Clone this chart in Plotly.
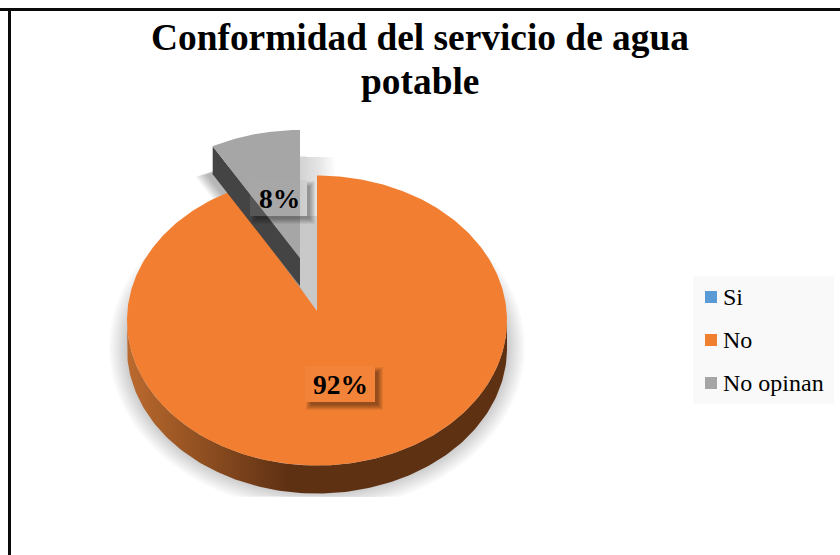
import numpy as np
import plotly.graph_objects as go

# ---- data
categories = ["Si", "No", "No opinan"]
values = [0.0, 92.4, 7.6]
colors = ["#5b9bd5", "#f27f31", "#a6a6a6"]
title_lines = ["Conformidad del servicio de agua", "potable"]

# ---- pie geometry (pixel-like axis units)
CX, CY, RX, RY, APEX_Y, DEPTH = 317, 320.5, 190, 145, 311, 28
EX, EY, E_APEX_Y = 300, 275, 258
CROP_BOTTOM = 497

total = sum(values)
angles = np.cumsum([0] + values) / total * 360
no_start, no_end = angles[1], angles[2]
op_start, op_end = angles[2], angles[3]


def arc(cx, cy, start, end, rx=RX, ry=RY, n=160):
    t = np.radians(np.linspace(start, end, n))
    return cx + rx * np.sin(t), cy - ry * np.cos(t)


fig = go.Figure()


def poly(x, y, color, **kw):
    fig.add_trace(go.Scatter(x=list(x), y=list(y), mode="lines", fill="toself",
                             fillcolor=color, line=dict(width=0), hoverinfo="skip",
                             showlegend=False, **kw))


# soft shadow under the pie, cut off at the picture's lower edge
for k in range(10):
    grow = 1.8 * (k + 1)
    x, y = arc(CX, CY + 27, 0, 360, RX + grow, RY + grow)
    poly(x, np.minimum(y, CROP_BOTTOM), "rgba(0,0,0,0.02)")

# exploded slice's soft shadow
ax, ay = arc(EX, EY, op_start, op_end)
wx = np.r_[EX, ax, EX]
wy = np.r_[E_APEX_Y + DEPTH, ay + DEPTH, E_APEX_Y + DEPTH]
for k in range(8):
    s = 1 + 0.035 * (k + 1)
    mx, my = wx.mean(), wy.mean()
    poly(mx + (wx - mx) * s - 5, my + (wy - my) * s, "rgba(0,0,0,0.04)")

# shadow band to the right of the exploded slice, fading out
poly([EX, EX + 36, EX + 36, EX], [157, 157, 216, 216], "#d4d4d4",
     fillgradient=dict(type="horizontal", start=EX, stop=EX + 36,
                       colorscale=[[0, "#d2d2d2"], [0.5, "#e4e4e4"], [1, "#ffffff"]]))
# inner cut face seen through the gap
poly([EX, CX, CX, EX], [216, 216, APEX_Y, E_APEX_Y + DEPTH + 1], "#c9c9c9")

# main slice rim
rx1, ry1 = arc(CX, CY, 90, 270)
rx2, ry2 = arc(CX, CY + DEPTH, 270, 90)
poly(np.r_[rx1, rx2], np.r_[ry1, ry2], "#5f3113",
     fillgradient=dict(type="horizontal", start=CX - RX, stop=CX + RX,
                       colorscale=[[0, "#bb6a2e"], [0.42, "#5f3113"], [1, "#5f3113"]]))

# main slice top
tx, ty = arc(CX, CY, no_start, no_end, n=400)
poly(np.r_[CX, tx, CX], np.r_[APEX_Y, ty, APEX_Y], colors[1])

# exploded slice: dark cut face and top
left_x, left_y = ax[0], ay[0]
poly([left_x, left_x, EX, EX], [left_y, left_y + DEPTH, E_APEX_Y + DEPTH, E_APEX_Y], "#444444")
poly(np.r_[EX, ax, EX], np.r_[E_APEX_Y, ay, E_APEX_Y], colors[2])


# data labels with soft L-shaped box shadows
def label(i, box, fill, shade):
    x0, x1, y0, y1 = box
    for k in range(5):
        g = 1.2 * k
        poly([x1, x1 + 3 + g, x1 + 3 + g, x0 + 6 - g, x0 + 6 - g, x1],
             [y0 + 6 - g, y0 + 6 - g, y1 + 3 + g, y1 + 3 + g, y1, y1],
             f"rgba(0,0,0,{shade})")
    poly([x0, x1, x1, x0], [y0, y0, y1, y1], fill)
    fig.add_annotation(x=(x0 + x1) / 2 + 0.5, y=(y0 + y1) / 2, text=f"{round(values[i])}%",
                       showarrow=False, borderpad=0,
                       font=dict(family="Liberation Serif", size=27.5, color="#000000",
                                 weight="bold"))


label(1, (305, 375, 366, 402), "#f4833a", 0.09)
label(2, (250, 307, 180, 216), "rgba(170,170,170,0.18)", 0.07)

# legend panel and entries
LEG_Y = [297, 340, 383]
poly([693, 834, 834, 693], [276, 276, 404, 404], "#f9f9f9")
for name, col, ly in zip(categories, ["#5b9bd5", "#f07f30", "#a5a5a5"], LEG_Y):
    fig.add_trace(go.Scatter(x=[711], y=[ly], mode="markers", name=name,
                             marker=dict(symbol="square", size=12, color=col),
                             hoverinfo="name", showlegend=False))
    fig.add_annotation(x=722, y=ly, text=name, showarrow=False, xanchor="left", borderpad=0,
                       font=dict(family="Liberation Serif", size=24, color="#000000"))

# second title line (the original's line spacing is tighter than a <br>)
fig.add_annotation(x=420, y=81, text=title_lines[1], showarrow=False, borderpad=0,
                   font=dict(family="Liberation Serif", size=37.4, color="#000000", weight="bold"))

BORDER = dict(type="line", line=dict(color="#0a0a0a", width=3), layer="above")
fig.update_layout(
    width=840, height=555, autosize=False,
    margin=dict(l=0, r=0, t=0, b=0, pad=0),
    paper_bgcolor="#ffffff", plot_bgcolor="#ffffff",
    showlegend=False,
    title=dict(text=title_lines[0], x=0.5, xanchor="center", xref="paper",
               y=1 - 37 / 555, yref="paper", yanchor="middle",
               font=dict(family="Liberation Serif", size=37.4, color="#000000", weight="bold")),
    xaxis=dict(range=[0, 840], visible=False, fixedrange=True),
    yaxis=dict(range=[555, 0], visible=False, fixedrange=True),
    shapes=[dict(x0=0, x1=840, y0=9.5, y1=9.5, **BORDER),
            dict(x0=9.5, x1=9.5, y0=8, y1=555, **BORDER)],
)
fig.write_html("out.html", config={"displayModeBar": False},
               post_script="document.body.style.margin='0';document.documentElement.style.overflow='hidden';")
